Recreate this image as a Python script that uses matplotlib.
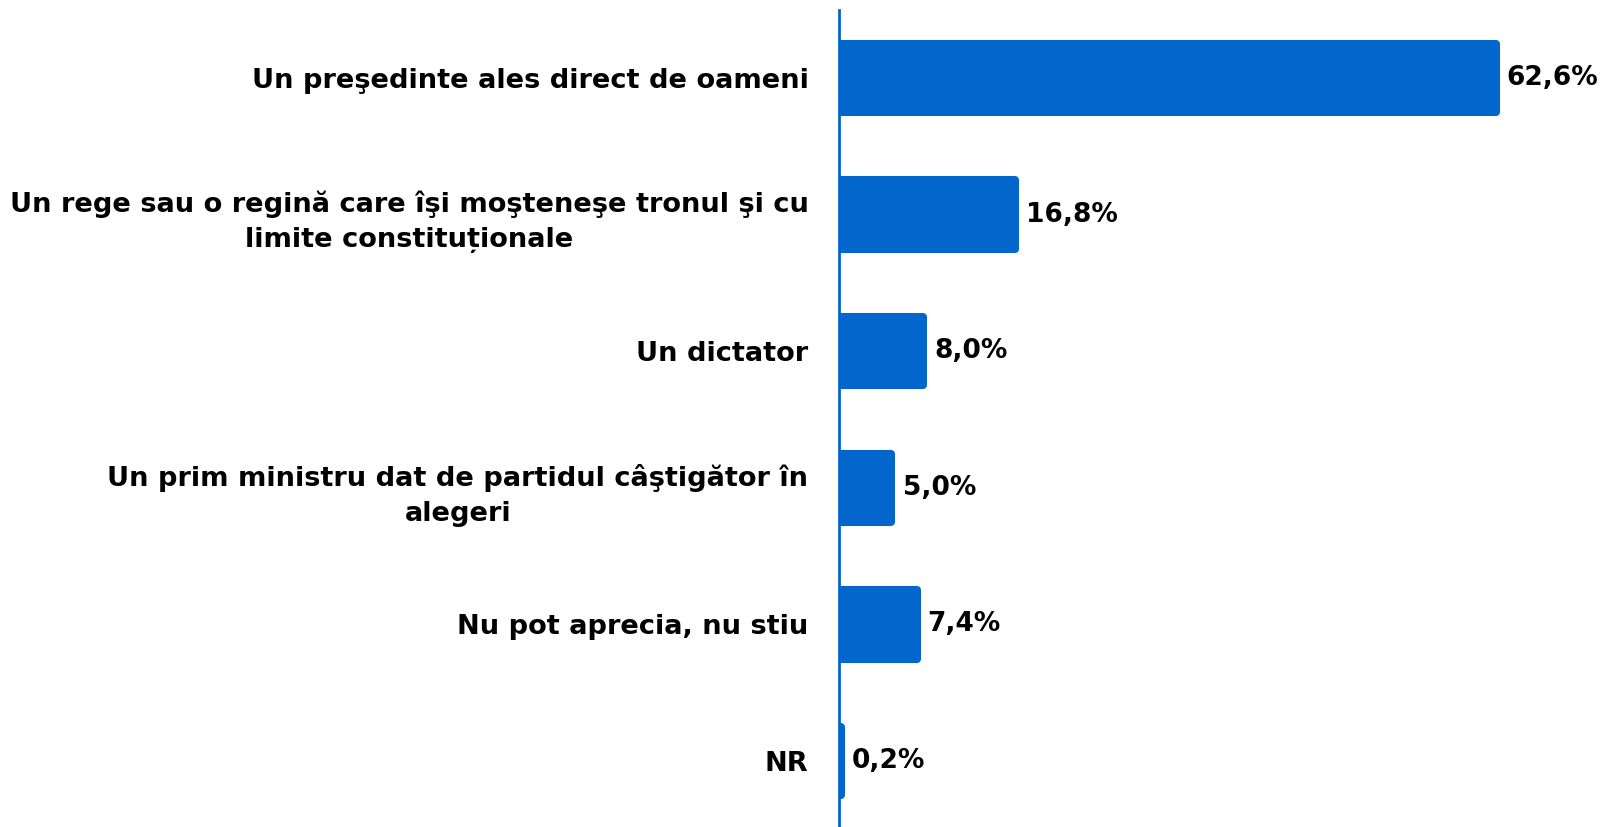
import matplotlib
matplotlib.use("Agg")
import matplotlib.pyplot as plt

plt.rcParams['font.family'] = ['DejaVu Sans']

# date
categorii = [
    "Un preşedinte ales direct de oameni",
    "Un rege sau o regină care îşi moşteneşe tronul şi cu\nlimite constituționale",
    "Un dictator",
    "Un prim ministru dat de partidul câştigător în\nalegeri",
    "Nu pot aprecia, nu stiu",
    "NR",
]
valori = [62.6, 16.8, 8.0, 5.0, 7.4, 0.2]
etichete = ["62,6%", "16,8%", "8,0%", "5,0%", "7,4%", "0,2%"]

albastru = "#0366CC"

fig = plt.figure(figsize=(16.08, 8.27), dpi=100)
ax = fig.add_axes([839 / 1608, 0, 1 - 839 / 1608, 1 - 10 / 827])

y = list(range(len(valori)))
# contur gros cu colturi rotunjite
ax.barh(y, valori, height=0.5, color=albastru, edgecolor=albastru,
        linewidth=5.8, joinstyle='round')

ax.set_xlim(0, 73.3)
ax.set_ylim(5.483, -0.498)

for yi, v, t in zip(y, valori, etichete):
    ax.annotate(t, (v, yi), xytext=(8, 0), textcoords='offset points',
                va='center', ha='left', fontsize=19, fontweight='bold',
                color='black')

ax.set_yticks(y)
ax.set_yticklabels(categorii, fontsize=19.6, fontweight='bold',
                   multialignment='center', linespacing=1.45)
ax.tick_params(axis='y', length=0, pad=22)
ax.set_xticks([])

for s in ['top', 'right', 'bottom']:
    ax.spines[s].set_visible(False)
ax.spines['left'].set_color(albastru)
ax.spines['left'].set_linewidth(2)

fig.savefig("out.png", dpi=100, facecolor='white')
